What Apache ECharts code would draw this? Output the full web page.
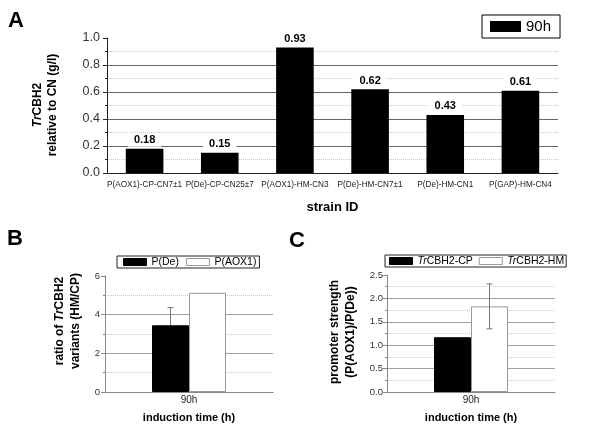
<!DOCTYPE html>
<html>
<head>
<meta charset="utf-8">
<script src="https://cdn.jsdelivr.net/npm/echarts@6/dist/echarts.min.js"></script>
<style>html,body{margin:0;padding:0;background:#fff}#c{width:600px;height:424px}</style>
</head>
<body>
<div id="c"></div>
<script>
// ---- Panel A data ----
const categoriesA = ['P(AOX1)-CP-CN7±1', 'P(De)-CP-CN25±7', 'P(AOX1)-HM-CN3', 'P(De)-HM-CN7±1', 'P(De)-HM-CN1', 'P(GAP)-HM-CN4'];
const valuesA = [0.18, 0.15, 0.93, 0.62, 0.43, 0.61];
const seriesNameA = '90h';
// ---- Panel B data ----
const categoriesB = ['90h'];
const valuesB_De = [3.45];
const errorsB_De = [0.92];
const valuesB_AOX1 = [5.13];
// ---- Panel C data ----
const categoriesC = ['90h'];
const valuesC_CP = [1.17];
const valuesC_HM = [1.83];
const errorsC_HM = [0.48];

const FONT = 'Liberation Sans, Arial, Helvetica, sans-serif';
const chart = echarts.init(document.getElementById('c'), null, {renderer: 'canvas'});

function errRender(offset) {
  return function (params, api) {
    const x = api.value(0), y = api.value(1), e = api.value(2);
    const top = api.coord([x, y + e]);
    const bot = api.coord([x, y - e]);
    const cx = top[0] + offset;
    const cap = 3;
    const st = {stroke: '#777', lineWidth: 1};
    return {
      type: 'group',
      children: [
        {type: 'line', shape: {x1: cx, y1: top[1], x2: cx, y2: bot[1]}, style: st},
        {type: 'line', shape: {x1: cx - cap, y1: top[1], x2: cx + cap, y2: top[1]}, style: st},
        {type: 'line', shape: {x1: cx - cap, y1: bot[1], x2: cx + cap, y2: bot[1]}, style: st}
      ]
    };
  };
}

function valueAxis(gi, max, interval, fmtDigits, opts) {
  return {
    type: 'value', gridIndex: gi, min: 0, max: max, interval: interval,
    axisLine: {show: true, lineStyle: {color: opts.axisColor, width: 1}},
    axisTick: {show: true, length: 4, lineStyle: {color: opts.axisColor}},
    minorTick: {show: true, splitNumber: 2, length: 2, lineStyle: {color: opts.axisColor}},
    axisLabel: {fontFamily: FONT, fontSize: opts.fontSize, color: '#333', margin: opts.margin,
      formatter: v => fmtDigits === 0 ? String(Math.round(v)) : v.toFixed(fmtDigits)},
    splitLine: {show: true, showMaxLine: false, lineStyle: {color: opts.splitColor, width: 1}},
    minorSplitLine: {show: true, lineStyle: {color: '#c8c8c8', type: 'dotted', width: 1}}
  };
}

const option = {
  animation: false,
  backgroundColor: '#fff',
  textStyle: {fontFamily: FONT},
  grid: [
    {left: 107, right: 42, top: 38, bottom: 251},
    {left: 105, right: 327, top: 276, bottom: 32},
    {left: 387, right: 45, top: 275, bottom: 32}
  ],
  legend: [
    {
      left: 482, top: 15, orient: 'horizontal', icon: 'rect',
      itemWidth: 31, itemHeight: 11, padding: [4, 9, 4, 8],
      borderColor: '#000', borderWidth: 1,
      textStyle: {fontFamily: FONT, fontSize: 15, color: '#000'},
      data: [{name: seriesNameA, itemStyle: {color: '#000', borderColor: '#000', borderWidth: 0}}]
    },
    {
      left: 117, top: 256, orient: 'horizontal', icon: 'rect',
      itemWidth: 23, itemHeight: 7, itemGap: 7, padding: [0, 3, 0, 6],
      borderColor: '#222', borderWidth: 1,
      textStyle: {fontFamily: FONT, fontSize: 10.5, color: '#000', lineHeight: 12},
      data: [
        {name: 'P(De)', itemStyle: {color: '#000', borderColor: '#000', borderWidth: 1}},
        {name: 'P(AOX1)', itemStyle: {color: '#fff', borderColor: '#999', borderWidth: 1}}
      ]
    },
    {
      left: 385, top: 255, orient: 'horizontal', icon: 'rect',
      itemWidth: 23, itemHeight: 7, itemGap: 6, padding: [0, 2, 0, 4],
      borderColor: '#222', borderWidth: 1,
      formatter: name => '{i|Tr}{n|' + name.slice(2) + '}',
      textStyle: {fontFamily: FONT, fontSize: 10.5, color: '#000', lineHeight: 12,
        rich: {
          i: {fontStyle: 'italic', fontFamily: FONT, fontSize: 10.5, color: '#000'},
          n: {fontFamily: FONT, fontSize: 10.5, color: '#000'}
        }},
      data: [
        {name: 'TrCBH2-CP', itemStyle: {color: '#000', borderColor: '#000', borderWidth: 1}},
        {name: 'TrCBH2-HM', itemStyle: {color: '#fff', borderColor: '#999', borderWidth: 1}}
      ]
    }
  ],
  xAxis: [
    {
      type: 'category', gridIndex: 0, data: categoriesA,
      axisLine: {lineStyle: {color: '#222', width: 1}},
      axisTick: {alignWithLabel: true, length: 4, lineStyle: {color: '#222'}},
      axisLabel: {interval: 0, fontFamily: FONT, fontSize: 8.2, color: '#222', margin: 8},
      name: 'strain ID', nameLocation: 'middle', nameGap: 28,
      nameTextStyle: {fontFamily: FONT, fontSize: 13, fontWeight: 'bold', color: '#000'}
    },
    {
      type: 'category', gridIndex: 1, data: categoriesB,
      axisLine: {lineStyle: {color: '#888', width: 1}},
      axisTick: {show: false},
      axisLabel: {fontFamily: FONT, fontSize: 10, color: '#222', margin: 3},
      name: 'induction time (h)', nameLocation: 'middle', nameGap: 20,
      nameTextStyle: {fontFamily: FONT, fontSize: 11, fontWeight: 'bold', color: '#000'}
    },
    {
      type: 'category', gridIndex: 2, data: categoriesC,
      axisLine: {lineStyle: {color: '#888', width: 1}},
      axisTick: {show: false},
      axisLabel: {fontFamily: FONT, fontSize: 10, color: '#222', margin: 3},
      name: 'induction time (h)', nameLocation: 'middle', nameGap: 20,
      nameTextStyle: {fontFamily: FONT, fontSize: 11, fontWeight: 'bold', color: '#000'}
    }
  ],
  yAxis: [
    valueAxis(0, 1.0, 0.2, 1, {axisColor: '#222', fontSize: 12.5, margin: 7, splitColor: '#666'}),
    valueAxis(1, 6, 2, 0, {axisColor: '#888', fontSize: 9.5, margin: 5, splitColor: '#a0a0a0'}),
    valueAxis(2, 2.5, 0.5, 1, {axisColor: '#888', fontSize: 9.5, margin: 4, splitColor: '#a0a0a0'})
  ],
  series: [
    {
      name: seriesNameA, type: 'bar', xAxisIndex: 0, yAxisIndex: 0, data: valuesA,
      barWidth: '50%',
      itemStyle: {color: '#000'},
      label: {show: true, position: 'top', distance: 2, fontFamily: FONT, fontSize: 11,
        fontWeight: 'bold', color: '#000', backgroundColor: '#fff', padding: [1, 6],
        formatter: p => p.value.toFixed(2)}
    },
    {
      name: 'P(De)', type: 'bar', xAxisIndex: 1, yAxisIndex: 1, data: valuesB_De,
      barWidth: 37, barGap: 0, z: 3,
      itemStyle: {color: '#000', borderColor: '#000', borderWidth: 1}
    },
    {
      name: 'P(AOX1)', type: 'bar', xAxisIndex: 1, yAxisIndex: 1, data: valuesB_AOX1,
      barWidth: 37, barGap: 0, z: 3,
      itemStyle: {color: '#fff', borderColor: '#999', borderWidth: 1}
    },
    {
      name: 'errB', type: 'custom', xAxisIndex: 1, yAxisIndex: 1, z: 2,
      renderItem: errRender(-18.5),
      data: valuesB_De.map((v, i) => [i, v, errorsB_De[i]])
    },
    {
      name: 'TrCBH2-CP', type: 'bar', xAxisIndex: 2, yAxisIndex: 2, data: valuesC_CP,
      barWidth: 37, barGap: 0, z: 3,
      itemStyle: {color: '#000', borderColor: '#000', borderWidth: 1}
    },
    {
      name: 'TrCBH2-HM', type: 'bar', xAxisIndex: 2, yAxisIndex: 2, data: valuesC_HM,
      barWidth: 37, barGap: 0, z: 3,
      itemStyle: {color: '#fff', borderColor: '#999', borderWidth: 1}
    },
    {
      name: 'errC', type: 'custom', xAxisIndex: 2, yAxisIndex: 2, z: 4,
      renderItem: errRender(18.5),
      data: valuesC_HM.map((v, i) => [i, v, errorsC_HM[i]])
    }
  ],
  graphic: [
    {type: 'text', left: 8, top: 10, style: {text: 'A', fontFamily: FONT, fontSize: 22, fontWeight: 'bold', fill: '#000'}},
    {type: 'text', left: 7, top: 228, style: {text: 'B', fontFamily: FONT, fontSize: 22, fontWeight: 'bold', fill: '#000'}},
    {type: 'text', left: 289, top: 230, style: {text: 'C', fontFamily: FONT, fontSize: 22, fontWeight: 'bold', fill: '#000'}},
    {type: 'text', x: 45.5, y: 105, rotation: Math.PI / 2,
      style: {text: '{i|Tr}{b|CBH2}\n{b|relative to CN (g/l)}', align: 'center', verticalAlign: 'middle',
        fontFamily: FONT, fontSize: 12, fontWeight: 'bold', fill: '#000', lineHeight: 15,
        rich: {i: {fontFamily: FONT, fontSize: 12, fontWeight: 'bold', fontStyle: 'italic', lineHeight: 15},
               b: {fontFamily: FONT, fontSize: 12, fontWeight: 'bold', lineHeight: 15}}}},
    {type: 'text', x: 67.5, y: 321, rotation: Math.PI / 2,
      style: {text: '{b|ratio of }{i|Tr}{b|CBH2}\n{b|variants (HM/CP)}', align: 'center', verticalAlign: 'middle',
        fontFamily: FONT, fontSize: 12, fontWeight: 'bold', fill: '#000', lineHeight: 16,
        rich: {i: {fontFamily: FONT, fontSize: 12, fontWeight: 'bold', fontStyle: 'italic', lineHeight: 16},
               b: {fontFamily: FONT, fontSize: 12, fontWeight: 'bold', lineHeight: 16}}}},
    {type: 'text', x: 343, y: 332, rotation: Math.PI / 2,
      style: {text: '{b|promoter strength}\n{b|(P(AOX1)/P(De))}', align: 'center', verticalAlign: 'middle',
        fontFamily: FONT, fontSize: 12, fontWeight: 'bold', fill: '#000', lineHeight: 16,
        rich: {b: {fontFamily: FONT, fontSize: 12, fontWeight: 'bold', lineHeight: 16}}}}
  ]
};
chart.setOption(option);
</script>
</body>
</html>
